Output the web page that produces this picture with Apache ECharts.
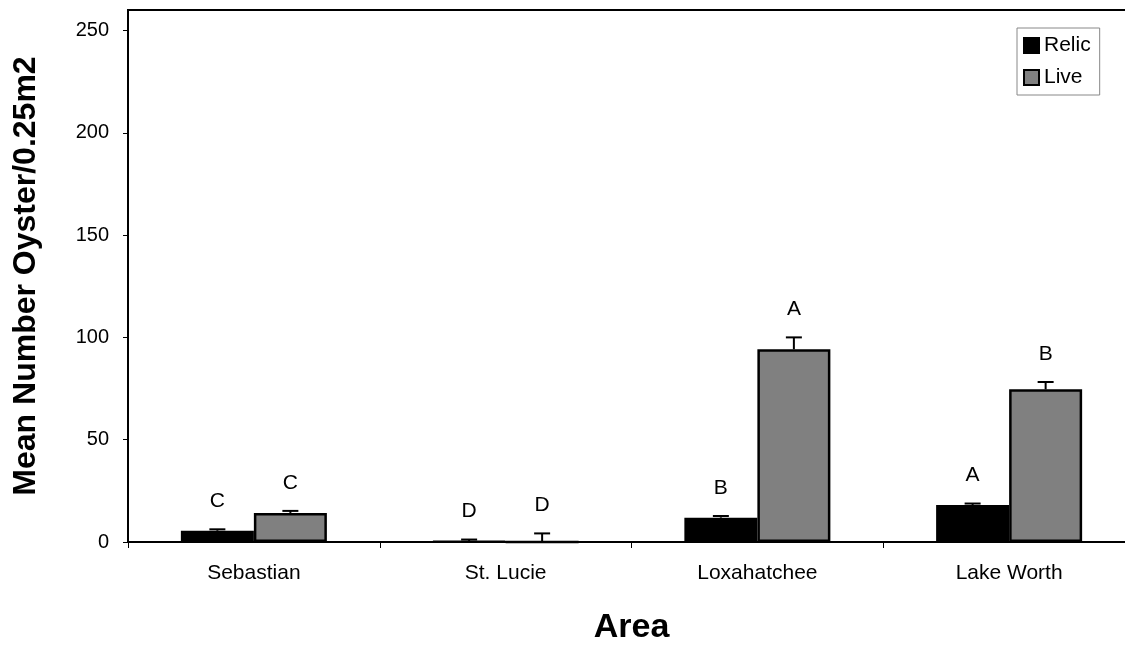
<!DOCTYPE html>
<html>
<head>
<meta charset="utf-8">
<title>Mean Number Oyster by Area</title>
<script src="https://cdn.jsdelivr.net/npm/echarts@6/dist/echarts.min.js"></script>
<style>
  html, body { margin: 0; padding: 0; background: #fff; }
  #chart { width: 1125px; height: 645px; }
</style>
</head>
<body>
<div id="chart"></div>
<script>
// Areas sampled
const categories = ['Sebastian', 'St. Lucie', 'Loxahatchee', 'Lake Worth'];

// Mean number of oysters per 0.25 m2 and standard error
const relicMean = [5.5, 0.3, 11.9, 18.1];
const relicSE   = [0.7, 0.9, 0.8, 0.7];
const liveMean  = [14.2, 0, 94.2, 74.6];
const liveSE    = [1.0, 4.2, 5.8, 3.6];

// Significance groupings drawn above each bar
const relicLetters = ['C', 'D', 'B', 'A'];
const liveLetters  = ['C', 'D', 'A', 'B'];

// Value axis ticks
const yTicks = [0, 50, 100, 150, 200, 250];

const FONT = '"Liberation Sans", Arial, Helvetica, sans-serif';
const BAR_FRACTION = 0.29;

// Upper error whisker plus letter above it; side = -1 for left bar, +1 for right bar
function errorSeries(name, means, errs, letters, side) {
  return {
    name: name,
    type: 'custom',
    z: 5,
    silent: true,
    data: means.map((m, i) => [i, m, errs[i]]),
    encode: { x: 0, y: 1 },
    renderItem: function (params, api) {
      const i = api.value(0);
      const mean = api.value(1);
      const top = mean + api.value(2);
      const band = api.size([1, 0])[0];
      const cx = api.coord([i, 0])[0] + side * band * BAR_FRACTION / 2;
      const yBar = api.coord([i, mean])[1];
      const yCap = api.coord([i, top])[1];
      const stroke = { stroke: '#000', lineWidth: 2 };
      return {
        type: 'group',
        children: [
          { type: 'line', shape: { x1: cx, y1: yBar, x2: cx, y2: yCap }, style: stroke },
          { type: 'line', shape: { x1: cx - 8, y1: yCap, x2: cx + 8, y2: yCap }, style: stroke },
          {
            type: 'text',
            style: {
              x: cx, y: yCap - 28,
              text: letters[params.dataIndex],
              fill: '#000',
              font: '21px ' + FONT,
              align: 'center',
              verticalAlign: 'middle'
            }
          }
        ]
      };
    }
  };
}

const chart = echarts.init(document.getElementById('chart'));

chart.setOption({
  backgroundColor: '#fff',
  animation: false,
  textStyle: { fontFamily: FONT, color: '#000' },
  grid: {
    left: 128, top: 10, width: 1007, height: 532,
    containLabel: false,
    outerBoundsMode: 'none',
    show: true, borderColor: '#000', borderWidth: 2, backgroundColor: 'transparent'
  },
  legend: {
    data: ['Relic', 'Live'],
    orient: 'vertical',
    left: 1017, top: 28,
    itemWidth: 15, itemHeight: 15, itemGap: 11,
    padding: [7, 9, 7, 6],
    borderColor: '#888', borderWidth: 1,
    icon: 'rect',
    textStyle: { fontSize: 21, color: '#000', fontFamily: FONT }
  },
  xAxis: {
    type: 'category',
    data: categories,
    name: 'Area',
    nameLocation: 'middle',
    nameGap: 69,
    nameTextStyle: { fontSize: 34, fontWeight: 'bold', color: '#000', fontFamily: FONT },
    axisLine: { lineStyle: { color: '#000', width: 2 } },
    axisTick: { show: true, length: 6, lineStyle: { color: '#000', width: 1 } },
    axisLabel: { fontSize: 21, color: '#000', margin: 21, fontFamily: FONT },
    splitLine: { show: false }
  },
  yAxis: {
    type: 'value',
    min: 0, max: 260, interval: 50,
    name: 'Mean Number Oyster/0.25m2',
    nameLocation: 'middle',
    nameGap: 86,
    nameRotate: 90,
    nameTextStyle: { fontSize: 32, fontWeight: 'bold', color: '#000', fontFamily: FONT },
    axisLine: { show: true, lineStyle: { color: '#000', width: 2 } },
    axisTick: { show: true, length: 5, customValues: yTicks, lineStyle: { color: '#000', width: 1 } },
    axisLabel: { fontSize: 20, color: '#000', margin: 19, customValues: yTicks, fontFamily: FONT },
    splitLine: { show: false }
  },
  series: [
    {
      name: 'Relic', type: 'bar',
      data: relicMean,
      barWidth: (BAR_FRACTION * 100) + '%', barGap: '0%',
      itemStyle: { color: '#000', borderColor: '#000', borderWidth: 2.5 }
    },
    {
      name: 'Live', type: 'bar',
      data: liveMean,
      barWidth: (BAR_FRACTION * 100) + '%', barGap: '0%',
      itemStyle: { color: '#808080', borderColor: '#000', borderWidth: 2.5 }
    },
    errorSeries('Relic SE', relicMean, relicSE, relicLetters, -1),
    errorSeries('Live SE', liveMean, liveSE, liveLetters, 1)
  ]
});
</script>
</body>
</html>
